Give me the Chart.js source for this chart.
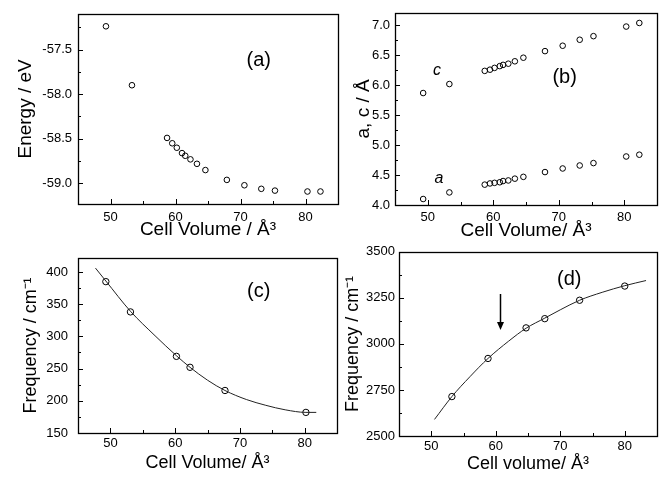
<!DOCTYPE html>
<html>
<head>
<meta charset="utf-8">
<script src="https://cdn.jsdelivr.net/npm/chart.js@4/dist/chart.umd.min.js"></script>
<style>
  html, body { margin: 0; padding: 0; background: #fff; }
  #wrap { position: relative; width: 659px; height: 478px; }
  canvas { position: absolute; }
</style>
</head>
<body>
<div id="wrap">
  <canvas id="panelA" width="340" height="240" style="left:0;top:0"></canvas>
  <canvas id="panelB" width="319" height="240" style="left:340px;top:0"></canvas>
  <canvas id="panelC" width="340" height="238" style="left:0;top:240px"></canvas>
  <canvas id="panelD" width="319" height="238" style="left:340px;top:240px"></canvas>
</div>
<script>
// (a), (b): calculated points
const cellVolume = [49.3, 53.3, 58.7, 59.5, 60.2, 61.0, 61.5, 62.3, 63.3, 64.6, 67.9, 70.6, 73.2, 75.3, 80.3, 82.3];
const energy = [-57.24, -57.90, -58.49, -58.55, -58.60, -58.66, -58.69, -58.73, -58.78, -58.85, -58.96, -59.02, -59.06, -59.08, -59.09, -59.09];
const latticeC = [5.87, 6.02, 6.24, 6.26, 6.29, 6.32, 6.34, 6.36, 6.40, 6.46, 6.57, 6.66, 6.76, 6.82, 6.98, 7.04];
const latticeA = [4.10, 4.21, 4.34, 4.36, 4.37, 4.38, 4.40, 4.41, 4.44, 4.47, 4.55, 4.61, 4.66, 4.70, 4.81, 4.84];

// (c) low frequency mode
const volumeLow = [49.3, 53.1, 60.2, 62.3, 67.7, 80.2];
const freqLow = [385, 338, 269, 252, 216, 182];
const fitVolumeLow = [47.7, 49.3, 53.1, 56.9, 60.2, 62.3, 65.0, 67.7, 71.0, 74.0, 77.0, 80.2, 81.8];
const fitFreqLow = [406, 386, 339, 301, 270, 252, 232, 216, 202, 193, 186, 182, 182];

// (d) high frequency mode
const volumeHigh = [53.2, 58.8, 64.7, 67.6, 73.0, 80.0];
const freqHigh = [2714, 2921, 3087, 3137, 3237, 3314];
const fitVolumeHigh = [50.5, 53.2, 56.0, 58.8, 62.0, 64.7, 67.6, 70.0, 73.0, 76.5, 80.0, 83.3];
const fitFreqHigh = [2590, 2714, 2822, 2921, 3015, 3085, 3140, 3185, 3237, 3280, 3316, 3344];

// tick labels
const volumeTicks = [50, 60, 70, 80];
const energyTicks = [-59.0, -58.5, -58.0, -57.5];
const latticeTicks = [4.0, 4.5, 5.0, 5.5, 6.0, 6.5, 7.0];
const freqLowTicks = [150, 200, 250, 300, 350, 400];
const freqHighTicks = [2500, 2750, 3000, 3250, 3500];

const FONT = "Arial, 'Liberation Sans', sans-serif";
const pts = (xs, ys) => xs.map((x, i) => ({ x, y: ys[i] }));

// box round the plot area plus inward major/minor tick marks
const frame = {
  id: "frame",
  afterDraw(chart) {
    const { ctx, chartArea: a, scales } = chart;
    ctx.save();
    ctx.strokeStyle = "#000";
    ctx.lineWidth = 1;
    ctx.beginPath();
    [scales.x, scales.y].forEach(s => {
      const vals = s.ticks.map(t => t.value);
      const step = vals[1] - vals[0];
      const marks = vals.map(v => [v, 5]);
      for (let v = vals[0] - step / 2; v <= s.max + 1e-9; v += step) {
        if (v >= s.min) marks.push([v, 3]);
      }
      marks.forEach(([v, len]) => {
        const p = Math.round(s.getPixelForValue(v)) + 0.5;
        if (s.isHorizontal()) { ctx.moveTo(p, a.bottom); ctx.lineTo(p, a.bottom - len); }
        else { ctx.moveTo(a.left, p); ctx.lineTo(a.left + len, p); }
      });
    });
    ctx.stroke();
    ctx.lineWidth = 1.3;
    ctx.strokeRect(Math.round(a.left) + 0.5, Math.round(a.top) + 0.5,
      Math.round(a.right - a.left), Math.round(a.bottom - a.top));
    ctx.restore();
  }
};

// panel letters, curve labels and the arrow in (d)
const notes = {
  id: "notes",
  afterDraw(chart, args, opts) {
    const { ctx, scales: { x, y } } = chart;
    ctx.save();
    ctx.fillStyle = "#000";
    ctx.strokeStyle = "#000";
    ctx.textAlign = "center";
    ctx.textBaseline = "middle";
    (opts.labels || []).forEach(l => {
      ctx.font = l.font;
      ctx.fillText(l.text, x.getPixelForValue(l.x), y.getPixelForValue(l.y));
    });
    if (opts.arrow) {
      const ax = Math.round(x.getPixelForValue(opts.arrow.x)) + 0.5;
      const y1 = y.getPixelForValue(opts.arrow.from);
      const y2 = y.getPixelForValue(opts.arrow.to);
      ctx.lineWidth = 1.5;
      ctx.beginPath();
      ctx.moveTo(ax, y1);
      ctx.lineTo(ax, y2 - 6);
      ctx.stroke();
      ctx.beginPath();
      ctx.moveTo(ax - 3.5, y2 - 8);
      ctx.lineTo(ax + 3.5, y2 - 8);
      ctx.lineTo(ax, y2);
      ctx.closePath();
      ctx.fill();
    }
    ctx.restore();
  }
};

function axis(o) {
  return {
    min: o.min,
    max: o.max,
    afterBuildTicks: s => { s.ticks = o.ticks.map(v => ({ value: v })); },
    afterFit: s => { if (s.isHorizontal()) s.height = o.size; else s.width = o.size; },
    grid: { display: false, drawTicks: false },
    border: { display: false },
    ticks: {
      color: "#000",
      padding: o.labelPad,
      font: { family: FONT, size: 13 },
      callback: o.fmt || (v => v)
    },
    title: {
      display: true,
      text: o.title,
      color: "#000",
      font: { family: FONT, size: o.titleSize || 19 },
      padding: o.titlePad
    }
  };
}

const markerSet = (data, r) => ({
  data,
  showLine: false,
  pointStyle: "circle",
  pointRadius: r || 2.8,
  pointBorderWidth: 1,
  pointBorderColor: "#000",
  pointBackgroundColor: "rgba(0,0,0,0)"
});

const fitLine = data => ({
  data,
  showLine: true,
  pointRadius: 0,
  borderColor: "#222",
  borderWidth: 1,
  cubicInterpolationMode: "monotone"
});

function panel(id, p) {
  return new Chart(document.getElementById(id), {
    type: "scatter",
    data: { datasets: p.datasets },
    plugins: [frame, notes],
    options: {
      responsive: false,
      animation: false,
      events: [],
      layout: { padding: p.pad, autoPadding: false },
      plugins: {
        legend: { display: false },
        tooltip: { enabled: false },
        notes: p.notes
      },
      scales: { x: p.x, y: p.y }
    }
  });
}

const one = v => v.toFixed(1);

panel("panelA", {
  pad: { left: 0, top: 10, right: 2, bottom: 0 },
  datasets: [markerSet(pts(cellVolume, energy))],
  x: axis({ min: 45, max: 85, ticks: volumeTicks, size: 36, labelPad: 6,
    title: "Cell Volume / Å³", titlePad: { top: 0, bottom: -1 } }),
  y: axis({ min: -59.23, max: -57.1, ticks: energyTicks, size: 78, labelPad: 6, fmt: one,
    title: "Energy / eV", titlePad: { top: 14, bottom: 0 } }),
  notes: { labels: [{ text: "(a)", x: 72.8, y: -57.62, font: "20px " + FONT }] }
});

panel("panelB", {
  pad: { left: 0, top: 10, right: 2, bottom: 0 },
  datasets: [markerSet(pts(cellVolume, latticeC)), markerSet(pts(cellVolume, latticeA))],
  x: axis({ min: 45, max: 85, ticks: volumeTicks, size: 35, labelPad: 5,
    title: "Cell Volume/ Å³", titlePad: { top: 0, bottom: -2 } }),
  y: axis({ min: 4.0, max: 7.21, ticks: latticeTicks, size: 55, labelPad: 5, fmt: one,
    title: "a, c / Å", titlePad: { top: 12, bottom: 0 } }),
  notes: { labels: [
    { text: "(b)", x: 70.9, y: 6.13, font: "20px " + FONT },
    { text: "c", x: 51.4, y: 6.24, font: "italic 16px " + FONT },
    { text: "a", x: 51.7, y: 4.45, font: "italic 16px " + FONT }
  ] }
});

panel("panelC", {
  pad: { left: 0, top: 8, right: 3, bottom: 0 },
  datasets: [fitLine(pts(fitVolumeLow, fitFreqLow)), markerSet(pts(volumeLow, freqLow), 3.2)],
  x: axis({ min: 45, max: 85, ticks: volumeTicks, size: 45, labelPad: 3, titleSize: 18,
    title: "Cell Volume/ Å³", titlePad: { top: 0, bottom: 4 } }),
  y: axis({ min: 150, max: 422, ticks: freqLowTicks, size: 78, labelPad: 10, titleSize: 18,
    title: "Frequency / cm⁻¹", titlePad: { top: 20, bottom: 0 } }),
  notes: { labels: [{ text: "(c)", x: 72.9, y: 369.5, font: "20px " + FONT }] }
});

panel("panelD", {
  pad: { left: 0, top: 6, right: 2, bottom: 0 },
  datasets: [fitLine(pts(fitVolumeHigh, fitFreqHigh)), markerSet(pts(volumeHigh, freqHigh), 3.2)],
  x: axis({ min: 45, max: 85, ticks: volumeTicks, size: 42, labelPad: 3, titleSize: 18,
    title: "Cell volume/ Å³", titlePad: { top: 0, bottom: 3 } }),
  y: axis({ min: 2500, max: 3500, ticks: freqHighTicks, size: 59, labelPad: 4, titleSize: 18,
    title: "Frequency / cm⁻¹", titlePad: { top: 2, bottom: 0 } }),
  notes: {
    labels: [{ text: "(d)", x: 71.4, y: 3350, font: "20px " + FONT }],
    arrow: { x: 60.65, from: 3271, to: 3076 }
  }
});
</script>
</body>
</html>
